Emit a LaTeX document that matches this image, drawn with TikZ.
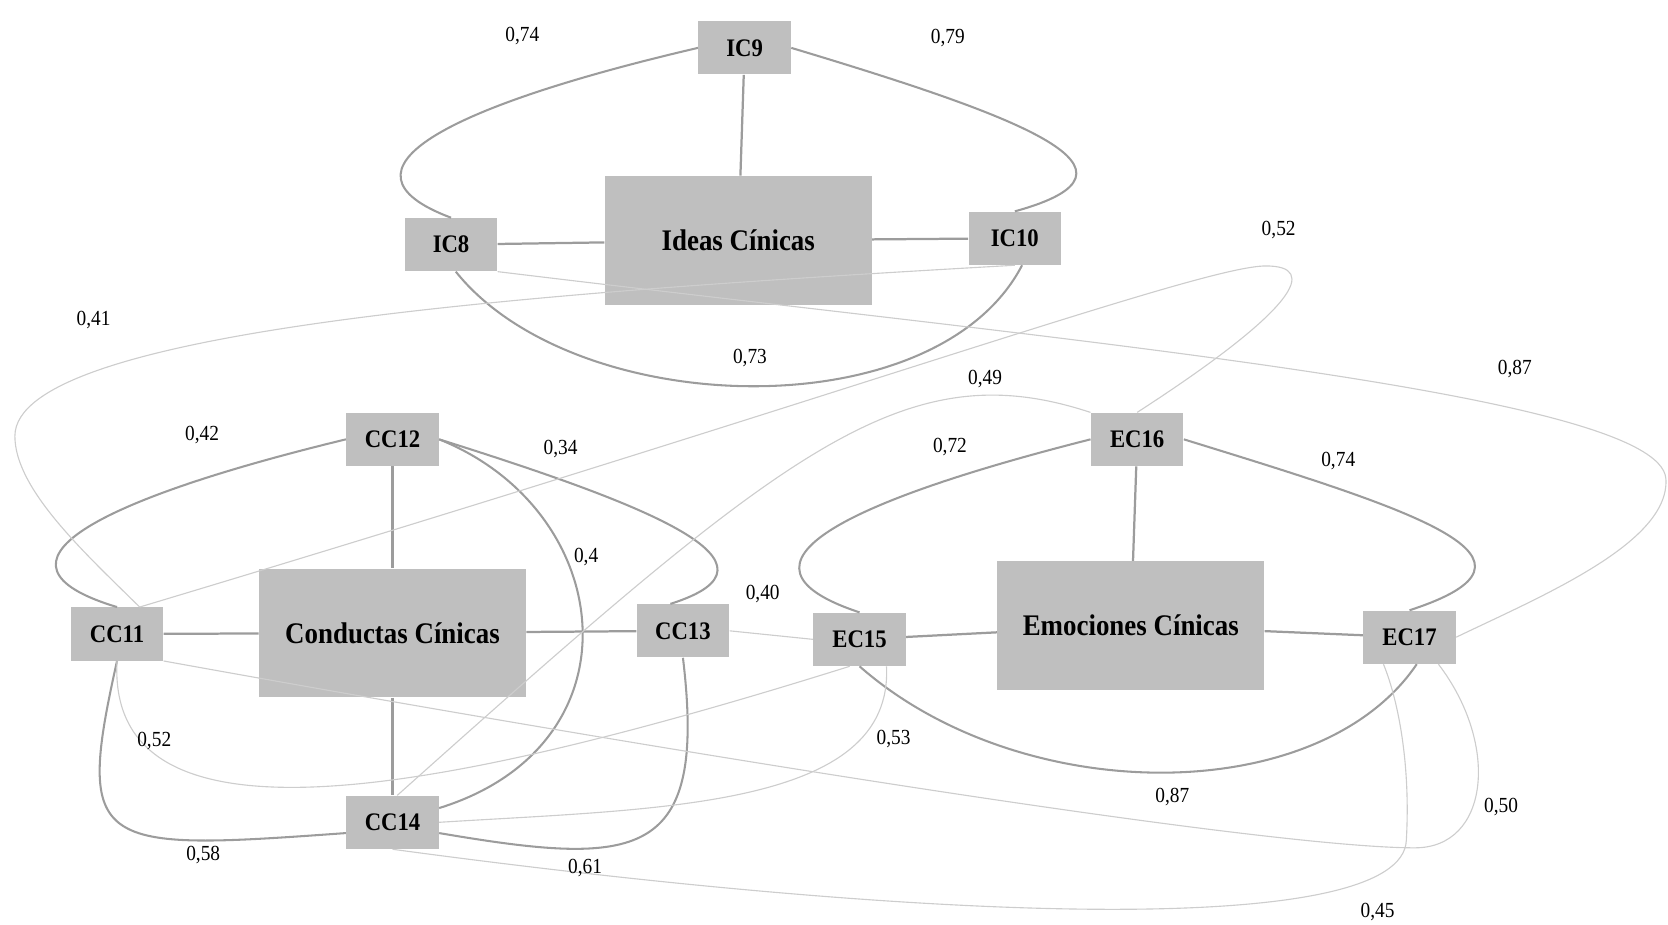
\documentclass[tikz,border=0pt]{standalone}
\usepackage{fontspec}
\setmainfont[FakeStretch=0.9]{Liberation Serif}
\usepackage{xcolor}
\definecolor{boxgray}{HTML}{BFBFBF}
\definecolor{linegray}{HTML}{9C9C9C}
\definecolor{crossgray}{HTML}{CDCDCD}

\begin{document}
\begin{tikzpicture}[x=0.02cm, y=-0.02cm,
    item/.style={fill=boxgray, inner sep=0pt, minimum width=1.74cm, minimum height=1cm,
        font=\fontsize{13.5}{15}\selectfont\bfseries},
    factor/.style={fill=boxgray, inner sep=0pt, minimum width=5.02cm, minimum height=2.42cm,
        font=\fontsize{16}{18}\selectfont\bfseries},
    load/.style={draw=linegray, line width=1.2pt},
    corr/.style={draw=linegray, line width=1.1pt},
    cross/.style={draw=crossgray, line width=0.6pt},
    val/.style={font=\fontsize{11.5}{13}\selectfont}]

    \useasboundingbox (0,0) rectangle (1568,869);

    \node [item] (ic9) at (700,45) {IC9};
    \node [factor] (ideas) at (694,226) {Ideas Cínicas};
    \node [item] (ic8) at (424,230) {IC8};
    \node [item] (ic10) at (954,224) {IC10};

    \node [item] (cc12) at (369,413) {CC12};
    \node [factor] (conductas) at (369,595) {Conductas Cínicas};
    \node [item] (cc11) at (110,596) {CC11};
    \node [item] (cc13) at (642,593) {CC13};
    \node [item] (cc14) at (369,773) {CC14};

    \node [item] (ec16) at (1069,413) {EC16};
    \node [factor] (emociones) at (1063,588) {Emociones Cínicas};
    \node [item] (ec15) at (808,601) {EC15};
    \node [item] (ec17) at (1325,599) {EC17};

    \draw [load] (ic9) to (ideas);
    \draw [load] (ic8) to (ideas);
    \draw [load] (ideas) to (ic10);
    \draw [load] (cc12) to (conductas);
    \draw [load] (cc11) to (conductas);
    \draw [load] (conductas) to (cc13);
    \draw [load] (conductas) to (cc14);
    \draw [load] (ec16) to (emociones);
    \draw [load] (ec15) to (emociones);
    \draw [load] (emociones) to (ec17);

    \draw [corr] (ic9.west) .. controls (420,100) and (305,160) .. (ic8.north);
    \draw [corr] (ic9.east) .. controls (960,110) and (1095,160) .. (ic10.north);
    \draw [corr] (ic8.-80) .. controls (540,395) and (880,405) .. (ic10.-75);
    \draw [corr] (cc12.west) .. controls (90,470) and (-25,530) .. (cc11.north);
    \draw [corr] (cc12.east) .. controls (610,475) and (750,530) .. (cc13.115);
    \draw [corr] (cc12.east) .. controls (580,480) and (605,700) .. (cc14.17);
    \draw [corr] (cc11.south) .. controls (70,800) and (90,800) .. (cc14.193);
    \draw [corr] (cc13.south) .. controls (665,810) and (600,815) .. (cc14.-13);
    \draw [corr] (ec16.west) .. controls (800,470) and (670,530) .. (ec15.north);
    \draw [corr] (ec16.east) .. controls (1330,480) and (1475,525) .. (ec17.north);
    \draw [corr] (ec15.south) .. controls (960,760) and (1240,760) .. (ec17.-75);

    \draw [cross] (ic10.south) .. controls (500,275) and (14,310) .. (14,410)
        .. controls (14,460) and (80,520) .. (cc11.50);
    \draw [cross] (cc11.50) .. controls (800,370) and (1130,250) .. (1190,250)
        .. controls (1240,250) and (1220,290) .. (ec16.north);
    \draw [cross] (ic8.south east) .. controls (1000,320) and (1560,370) .. (1566,450)
        .. controls (1570,510) and (1450,560) .. (ec17.east);
    \draw [cross] (cc14.80) .. controls (740,420) and (850,330) .. (ec16.150);
    \draw [cross] (cc13.east) to (ec15.west);
    \draw [cross] (cc11.south) .. controls (100,810) and (420,745) .. (ec15.-110);
    \draw [cross] (ec15.-45) .. controls (840,760) and (620,760) .. (cc14.east);
    \draw [cross] (cc11.south east) .. controls (700,720) and (1200,797) .. (1330,797)
        .. controls (1400,797) and (1410,700) .. (ec17.-43);
    \draw [cross] (cc14.south) .. controls (900,870) and (1318,880) .. (1322,790)
        .. controls (1326,720) and (1315,660) .. (ec17.-134);

    \node [val] (r1) at (491,34) {0,74};
    \node [val] (r2) at (891,36) {0,79};
    \node [val] (r3) at (705,337) {0,73};
    \node [val] (r4) at (190,409) {0,42};
    \node [val] (r5) at (527,422) {0,34};
    \node [val] (r6) at (551,524) {0,4};
    \node [val] (r7) at (191,804) {0,58};
    \node [val] (r8) at (550,816) {0,61};
    \node [val] (r9) at (893,420) {0,72};
    \node [val] (r10) at (1258,433) {0,74};
    \node [val] (r11) at (1102,749) {0,87};
    \node [val] (r12) at (88,301) {0,41};
    \node [val] (r13) at (1202,216) {0,52};
    \node [val] (r14) at (1424,347) {0,87};
    \node [val] (r15) at (926,356) {0,49};
    \node [val] (r16) at (717,558) {0,40};
    \node [val] (r17) at (145,697) {0,52};
    \node [val] (r18) at (840,695) {0,53};
    \node [val] (r19) at (1411,759) {0,50};
    \node [val] (r20) at (1295,857) {0,45};

\end{tikzpicture}
\end{document}
